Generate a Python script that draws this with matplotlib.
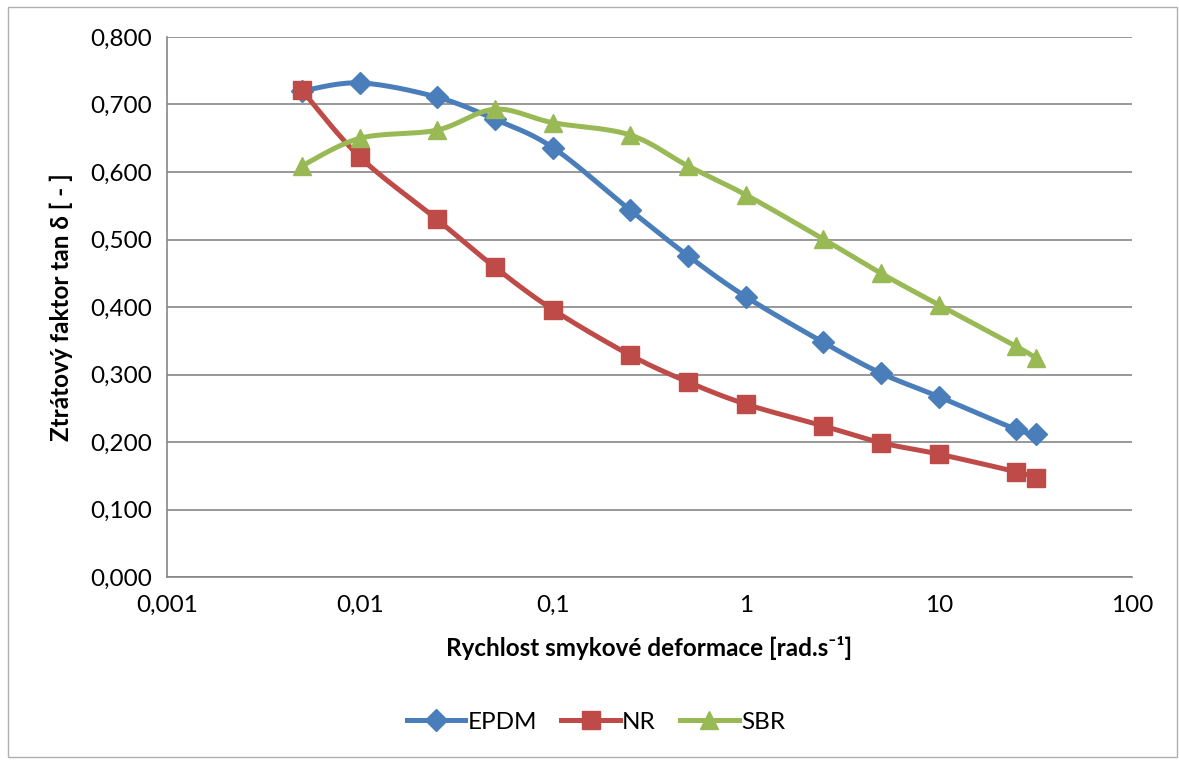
import numpy as np
import matplotlib.pyplot as plt
from matplotlib.patches import Rectangle
from matplotlib.ticker import FixedLocator, FixedFormatter, NullLocator

plt.rcParams['font.family'] = ['Lato', 'DejaVu Sans']

rate = [0.005, 0.01, 0.025, 0.05, 0.1, 0.25, 0.5, 1, 2.5, 5, 10, 25, 32]
epdm = [0.720, 0.732, 0.711, 0.678, 0.636, 0.544, 0.476, 0.415, 0.348, 0.302, 0.267, 0.219, 0.212]
nr = [0.721, 0.622, 0.530, 0.459, 0.396, 0.329, 0.289, 0.256, 0.224, 0.199, 0.182, 0.156, 0.147]
sbr = [0.609, 0.650, 0.662, 0.693, 0.673, 0.655, 0.609, 0.566, 0.501, 0.450, 0.403, 0.342, 0.324]

series = [("EPDM", epdm, "#4A7EBB", "D", 11),
          ("NR", nr, "#BE4B48", "s", 13),
          ("SBR", sbr, "#98B954", "^", 13)]

xticks = [0.001, 0.01, 0.1, 1, 10, 100]
xlabels = ["0,001", "0,01", "0,1", "1", "10", "100"]
yticks = np.arange(0, 0.81, 0.1)

FS = 17.5

W, H = 1179, 760
fig = plt.figure(figsize=(W / 100, H / 100), dpi=100)
ax = fig.add_axes([167 / W, 1 - 577 / H, (1132 - 167) / W, (577 - 37) / H])

ax.set_xscale("log")
ax.set_xlim(0.001, 100)
ax.set_ylim(0, 0.8)
ax.xaxis.set_major_locator(FixedLocator(xticks))
ax.xaxis.set_major_formatter(FixedFormatter(xlabels))
ax.xaxis.set_minor_locator(NullLocator())
ax.set_yticks(yticks)
ax.set_yticklabels([f"{v:.3f}".replace(".", ",") for v in yticks])
ax.tick_params(length=0, labelsize=FS, colors="black", pad=11)
ax.tick_params(axis="x", pad=13)
ax.grid(axis="y", color="#868686", linewidth=1.2)
ax.set_axisbelow(True)
for side in ["top", "right"]:
    ax.spines[side].set_visible(False)
for side in ["left", "bottom"]:
    ax.spines[side].set_color("#868686")
    ax.spines[side].set_linewidth(1.2)


def smooth(xs, ys, n=30):
    # Excel-like smoothed line: Catmull-Rom bezier in display space
    pts = ax.transData.transform(np.column_stack([xs, ys]))
    p = np.vstack([pts[0], pts, pts[-1]])
    out = []
    for i in range(1, len(p) - 2):
        p0, p1, p2, p3 = p[i - 1], p[i], p[i + 1], p[i + 2]
        c1 = p1 + (p2 - p0) / 6
        c2 = p2 - (p3 - p1) / 6
        t = np.linspace(0, 1, n)[:, None]
        seg = ((1 - t) ** 3 * p1 + 3 * (1 - t) ** 2 * t * c1
               + 3 * (1 - t) * t ** 2 * c2 + t ** 3 * p2)
        out.append(seg)
    out = np.vstack(out)
    d = ax.transData.inverted().transform(out)
    return d[:, 0], d[:, 1]


handles = []
for name, vals, col, mk, ms in series:
    sx, sy = smooth(rate, vals)
    ax.plot(sx, sy, color=col, linewidth=3.6, solid_capstyle="round", zorder=3)
    ax.plot(rate, vals, linestyle="none", marker=mk, markersize=ms, color=col, zorder=4)
    h, = ax.plot([], [], color=col, linewidth=3.6, marker=mk, markersize=ms)
    handles.append(h)

ax.set_xlabel("Rychlost smykové deformace [rad.s\u207b\u00b9]", fontsize=FS,
              fontweight="bold", labelpad=14)
ax.set_ylabel("Ztrátový faktor tan δ [ - ]", fontsize=FS, fontweight="bold", labelpad=12)

fig.legend(handles, [s[0] for s in series], loc="center", bbox_to_anchor=(596 / W, 1 - 722 / H),
           ncol=3, frameon=False, fontsize=FS, handlelength=2.4, columnspacing=1.0,
           handletextpad=0.1)

fig.add_artist(Rectangle((8 / W, 3 / H), 1169 / W, 750 / H, transform=fig.transFigure,
                         fill=False, edgecolor="#B0B0B0", linewidth=1))

fig.savefig("out.png", dpi=100)
